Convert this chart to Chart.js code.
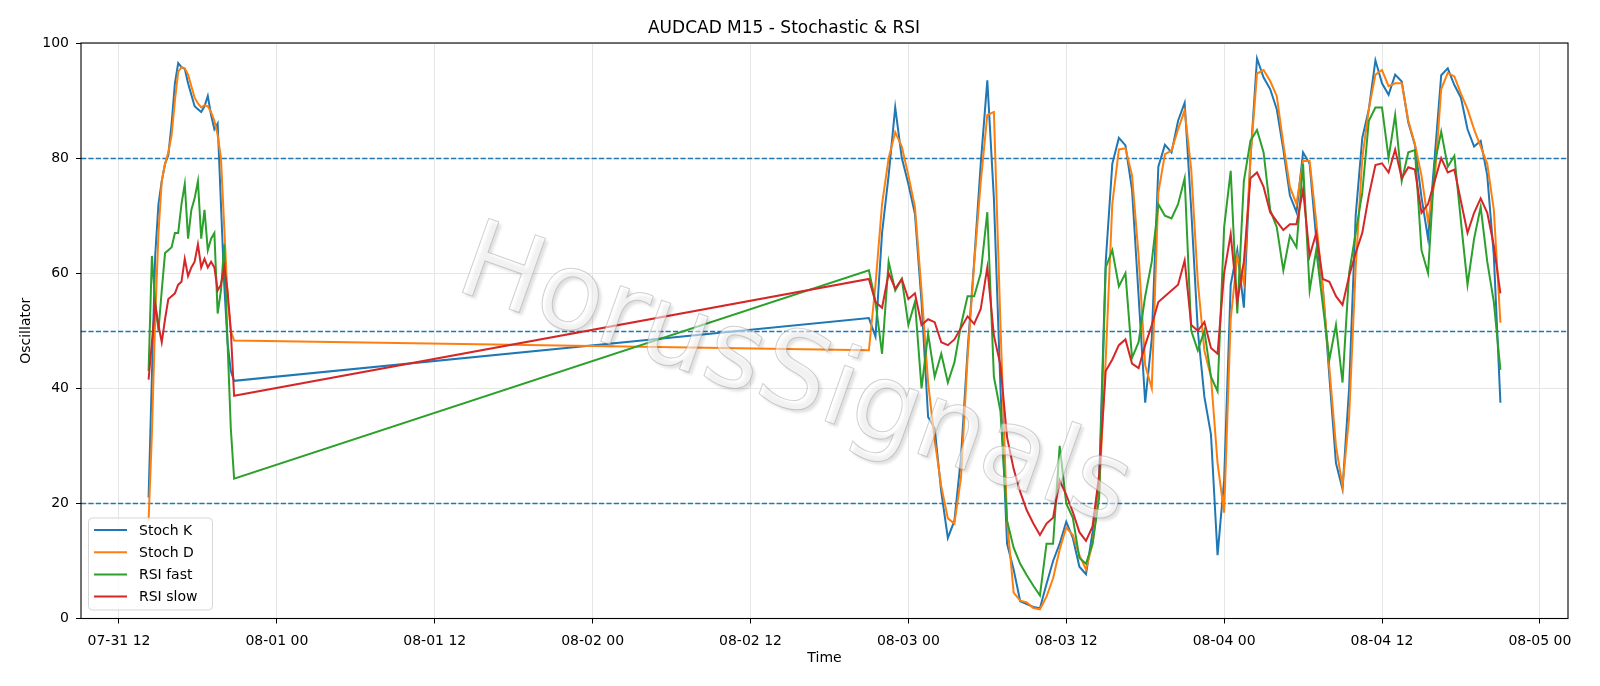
<!DOCTYPE html>
<html>
<head>
<meta charset="utf-8">
<title>AUDCAD M15 - Stochastic &amp; RSI</title>
<script src="https://cdn.jsdelivr.net/npm/chart.js@4.4.1/dist/chart.umd.min.js"></script>
<style>
  html, body { margin: 0; padding: 0; background: #fff; }
  canvas { display: block; }
</style>
</head>
<body>
<canvas id="osc-chart" width="1600" height="686" style="width:1600px;height:686px"></canvas>
<script>
// Bar times (M15 feed, weekend gap between the two blocks)
const barTimes = [
  '07-31 14:15', '07-31 14:30', '07-31 14:45', '07-31 15:00', '07-31 15:15', '07-31 15:30', '07-31 15:45',
  '07-31 16:00', '07-31 16:15', '07-31 16:30', '07-31 16:45', '07-31 17:00', '07-31 17:15', '07-31 17:30',
  '07-31 17:45', '07-31 18:00', '07-31 18:15', '07-31 18:30', '07-31 18:45', '07-31 19:00', '07-31 19:15',
  '07-31 19:30', '07-31 19:45', '07-31 20:00', '07-31 20:15', '07-31 20:30', '07-31 20:45',
  '08-02 21:00', '08-02 21:30', '08-02 22:00', '08-02 22:30', '08-02 23:00', '08-02 23:30', '08-03 00:00', '08-03 00:30',
  '08-03 01:00', '08-03 01:30', '08-03 02:00', '08-03 02:30', '08-03 03:00', '08-03 03:30', '08-03 04:00', '08-03 04:30',
  '08-03 05:00', '08-03 05:30', '08-03 06:00', '08-03 06:30', '08-03 07:00', '08-03 07:30', '08-03 08:00', '08-03 08:30',
  '08-03 09:00', '08-03 09:30', '08-03 10:00', '08-03 10:30', '08-03 11:00', '08-03 11:30', '08-03 12:00', '08-03 12:30',
  '08-03 13:00', '08-03 13:30', '08-03 14:00', '08-03 14:30', '08-03 15:00', '08-03 15:30', '08-03 16:00', '08-03 16:30',
  '08-03 17:00', '08-03 17:30', '08-03 18:00', '08-03 18:30', '08-03 19:00', '08-03 19:30', '08-03 20:00', '08-03 20:30',
  '08-03 21:00', '08-03 21:30', '08-03 22:00', '08-03 22:30', '08-03 23:00', '08-03 23:30', '08-04 00:00', '08-04 00:30',
  '08-04 01:00', '08-04 01:30', '08-04 02:00', '08-04 02:30', '08-04 03:00', '08-04 03:30', '08-04 04:00', '08-04 04:30',
  '08-04 05:00', '08-04 05:30', '08-04 06:00', '08-04 06:30', '08-04 07:00', '08-04 07:30', '08-04 08:00', '08-04 08:30',
  '08-04 09:00', '08-04 09:30', '08-04 10:00', '08-04 10:30', '08-04 11:00', '08-04 11:30', '08-04 12:00', '08-04 12:30',
  '08-04 13:00', '08-04 13:30', '08-04 14:00', '08-04 14:30', '08-04 15:00', '08-04 15:30', '08-04 16:00', '08-04 16:30',
  '08-04 17:00', '08-04 17:30', '08-04 18:00', '08-04 18:30', '08-04 19:00', '08-04 19:30', '08-04 20:00', '08-04 20:30',
  '08-04 21:00',
];

const stochK = [
  21, 42, 63, 72, 76, 79, 80.5, 86, 93, 96.5, 95.8, 95.5, 93, 91,
  89, 88.5, 88, 89, 90.8, 87.5, 85, 86, 72, 58, 48, 43, 41.3,
  52.2, 49, 67, 77, 88.8, 80, 75.5, 70.3,
  55, 35, 33, 22, 14, 17, 28, 46.5,
  62, 79, 93.5, 73, 40, 13, 8.5, 3,
  2.5, 2, 1.8, 6, 10, 13, 16.8, 14,
  9, 7.7, 15, 24, 62, 79, 83.5, 82.2,
  74.5, 56, 37.5, 48.6, 78.5, 82.3, 81, 86.5,
  89.6, 71, 50, 38.5, 32, 11, 24, 58,
  64, 54, 80, 97.3, 94, 92, 88.5, 81.5,
  73.5, 70.6, 81, 79, 66, 57.5, 42, 27,
  22.5, 40, 70, 83.5, 88.5, 97, 93, 91,
  94.5, 93.3, 86.2, 82.3, 73.2, 66, 80, 94.4,
  95.6, 92.7, 90.5, 85, 82, 83, 77, 63,
  37.5,
];

const stochD = [
  17, 32, 52, 67, 76, 79, 81, 84, 90, 95, 95.8, 95.6, 94.5, 92.5,
  90.5, 89.5, 88.8, 89.2, 89, 88, 86.5, 84, 80, 68, 56, 50, 48.3,
  46.6, 58, 72, 80, 84.5, 82, 77, 71.5,
  57, 41, 31, 23, 17.4, 16.5, 24.5, 45.3,
  61.6, 75.8, 87.5, 88, 51, 17, 4.5, 3.1,
  2.8, 1.8, 1.6, 3.8, 7, 12, 15.8, 14.5,
  11, 8.5, 13, 22, 45, 72, 81.5, 81.7,
  77, 63, 44, 40, 74, 80.7, 81.3, 85,
  88.3, 78, 58.5, 46.5, 42, 27, 18.4, 52,
  63, 58.3, 80, 94.7, 95.3, 93.4, 90.8, 82.5,
  75, 72, 79.5, 79.5, 69, 57.5, 43.5, 30,
  23, 35, 61, 80, 88.5, 94.5, 95.3, 92.5,
  93, 93, 86.5, 82.5, 77, 69, 76, 92,
  94.8, 94.2, 91.2, 88.5, 85, 82, 79, 71,
  51.4,
];

const rsiFast = [
  43, 63, 55, 50, 57, 63.5, 64, 64.5, 67, 67, 72, 75.5, 66, 71,
  73, 76, 66, 71, 64, 66, 67, 53, 57, 65, 48, 33, 24.3,
  60.5, 55, 46, 62, 57, 59, 51, 55,
  40, 49.5, 42, 46, 41, 44.5, 51, 56,
  56, 60, 70.6, 42, 36, 17, 12.3, 9.5,
  7.5, 5.7, 4, 13, 13, 30, 20, 17.5,
  10.5, 9.5, 13, 21, 61, 64, 57.7, 60,
  45.3, 48, 56, 62, 72, 70, 69.5, 72,
  76.5, 50, 46.6, 50, 42, 39.5, 68, 77.8,
  53, 76, 83, 84.9, 81, 71, 68, 60.5,
  66.5, 64.5, 79, 57, 64, 54.5, 45, 51,
  41, 60, 67, 74, 86.5, 88.8, 88.8, 80,
  87.5, 76, 81, 81.4, 64, 60, 79, 84.6,
  78.5, 80.4, 69, 58, 66, 71.5, 62, 55,
  43.2,
];

const rsiSlow = [
  41.5, 48, 54.5, 51, 48, 52, 55.5, 56, 56.5, 58, 58.5, 62.5, 59.5, 61,
  62, 65, 61, 62.5, 61, 62, 61, 57, 58, 61, 57, 50, 38.7,
  59, 55, 54, 60, 57.3, 59, 55.5, 56.5,
  51, 52, 51.5, 48, 47.5, 48.5, 50.5, 52.5,
  51.2, 53.8, 61, 49.2, 44, 31.5, 26, 22,
  18.8, 16.5, 14.5, 16.5, 17.5, 24, 21.5, 18.5,
  15, 13.5, 16, 25, 43, 45, 47.5, 48.5,
  44.3, 43.5, 47.5, 51, 55, 56, 57, 58,
  62.2, 51, 50, 51.5, 47, 46, 60, 66.8,
  55, 62, 76.5, 77.5, 75, 70.6, 69, 67.5,
  68.5, 68.5, 74.5, 63, 67, 59, 58.5, 56,
  54.5, 59.5, 63.5, 67, 73.5, 78.8, 79.1, 77.5,
  81.5, 76.5, 78.4, 78, 70.5, 72, 76, 80,
  77.5, 78, 72.5, 67, 70.5, 73, 70.5, 64.8,
  56.5,
];

// x axis ticks every 12 hours
const xTickTimes = ['07-31 12:00', '08-01 00:00', '08-01 12:00', '08-02 00:00', '08-02 12:00',
  '08-03 00:00', '08-03 12:00', '08-04 00:00', '08-04 12:00', '08-05 00:00'];
const xTickLabels = ['07-31 12', '08-01 00', '08-01 12', '08-02 00', '08-02 12',
  '08-03 00', '08-03 12', '08-04 00', '08-04 12', '08-05 00'];

// overbought / mid / oversold levels
const refLevels = [20, 50, 80];

const FONT = '"DejaVu Sans", "Liberation Sans", sans-serif';

// 'MM-DD HH:MM' -> hours since 08-03 00:00
function toHours(label) {
  const [md, hm] = label.split(' ');
  const [m, d] = md.split('-').map(Number);
  const [hh, mm] = hm.split(':').map(Number);
  return (Date.UTC(2026, m - 1, d, hh, mm) - Date.UTC(2026, 7, 3)) / 3600000;
}

const xs = barTimes.map(toHours);
const toPoints = (vals) => vals.map((v, i) => ({ x: xs[i], y: v }));

// matplotlib style 5% margin on the time axis
const xFirst = xs[0];
const xLast = xs[xs.length - 1];
const xPad = (xLast - xFirst) * 0.05;

const seriesStyle = (label, color, order) => ({
  label: label,
  borderColor: color,
  backgroundColor: color,
  borderWidth: 2,
  pointRadius: 0,
  tension: 0,
  fill: false,
  order: order,
});

const oscData = {
  datasets: [
    { ...seriesStyle('Stoch K', '#1f77b4', 4), data: toPoints(stochK) },
    { ...seriesStyle('Stoch D', '#ff7f0e', 3), data: toPoints(stochD) },
    { ...seriesStyle('RSI fast', '#2ca02c', 2), data: toPoints(rsiFast) },
    { ...seriesStyle('RSI slow', '#d62728', 1), data: toPoints(rsiSlow) },
  ],
};

// dashed reference lines
const refLinesPlugin = {
  id: 'refLines',
  beforeDatasetsDraw(chart) {
    const { ctx, chartArea, scales } = chart;
    ctx.save();
    ctx.strokeStyle = '#1f77b4';
    ctx.lineWidth = 1.3;
    ctx.setLineDash([5.2, 2.2]);
    refLevels.forEach((lvl) => {
      const y = Math.round(scales.y.getPixelForValue(lvl)) + 0.5;
      ctx.beginPath();
      ctx.moveTo(chartArea.left, y);
      ctx.lineTo(chartArea.right, y);
      ctx.stroke();
    });
    ctx.restore();
  },
};

// faint watermark over the plot
const watermarkPlugin = {
  id: 'watermark',
  afterDatasetsDraw(chart) {
    const { ctx } = chart;
    ctx.save();
    ctx.translate(794, 380);
    ctx.rotate((19.5 * Math.PI) / 180);
    ctx.font = '108px ' + FONT;
    ctx.textAlign = 'center';
    ctx.textBaseline = 'middle';
    ctx.shadowColor = 'rgba(0, 0, 0, 0.22)';
    ctx.shadowBlur = 3;
    ctx.shadowOffsetX = 3;
    ctx.shadowOffsetY = 3;
    ctx.fillStyle = 'rgba(255, 255, 255, 0.55)';
    ctx.fillText('HorusSignals', 0, 0);
    ctx.shadowColor = 'transparent';
    ctx.strokeStyle = 'rgba(150, 150, 150, 0.45)';
    ctx.lineWidth = 1;
    ctx.strokeText('HorusSignals', 0, 0);
    ctx.restore();
  },
};

// axes frame + legend box in the lower left corner
const frameLegendPlugin = {
  id: 'frameLegend',
  afterDraw(chart) {
    const { ctx, chartArea } = chart;
    ctx.save();
    ctx.strokeStyle = '#000';
    ctx.lineWidth = 1.1;
    ctx.strokeRect(chartArea.left, chartArea.top, chartArea.right - chartArea.left, chartArea.bottom - chartArea.top);

    const bx = chartArea.left + 7;
    const by = chartArea.bottom - 101;
    const bw = 124;
    const bh = 92;
    ctx.fillStyle = 'rgba(255, 255, 255, 0.8)';
    ctx.strokeStyle = 'rgba(204, 204, 204, 0.8)';
    ctx.lineWidth = 1;
    ctx.beginPath();
    ctx.roundRect(bx + 0.5, by + 0.5, bw, bh, 4);
    ctx.fill();
    ctx.stroke();

    ctx.font = '14px ' + FONT;
    ctx.textBaseline = 'middle';
    ctx.textAlign = 'left';
    chart.data.datasets.forEach((ds, i) => {
      const rowY = by + 12.5 + i * 22.2;
      ctx.strokeStyle = ds.borderColor;
      ctx.lineWidth = 2;
      ctx.beginPath();
      ctx.moveTo(bx + 6, rowY);
      ctx.lineTo(bx + 39, rowY);
      ctx.stroke();
      ctx.fillStyle = '#000';
      ctx.fillText(ds.label, bx + 51, rowY + 1);
    });
    ctx.restore();
  },
};

const oscOptions = {
  responsive: false,
  animation: false,
  devicePixelRatio: 1,
  layout: {
    padding: { left: 0, right: 32, top: 0, bottom: 0 },
  },
  scales: {
    x: {
      type: 'linear',
      min: xFirst - xPad,
      max: xLast + xPad,
      afterBuildTicks: (scale) => {
        scale.ticks = xTickTimes.map((t) => ({ value: toHours(t) }));
      },
      afterFit: (scale) => {
        scale.height = 67.5;
      },
      ticks: {
        autoSkip: false,
        maxRotation: 0,
        padding: 9,
        color: '#000',
        font: { family: FONT, size: 14 },
        callback: (value, index) => xTickLabels[index],
      },
      grid: {
        color: '#e6e6e6',
        lineWidth: 1,
        tickLength: 5,
        tickColor: '#000',
      },
      border: { display: false },
      title: {
        display: true,
        text: 'Time',
        color: '#000',
        font: { family: FONT, size: 14 },
        padding: { top: 0, bottom: 19.5 },
      },
    },
    y: {
      min: 0,
      max: 100,
      afterFit: (scale) => {
        scale.width = 81;
      },
      ticks: {
        stepSize: 20,
        padding: 7,
        color: '#000',
        font: { family: FONT, size: 14 },
      },
      grid: {
        color: '#e6e6e6',
        lineWidth: 1,
        tickLength: 5,
        tickColor: '#000',
      },
      border: { display: false },
      title: {
        display: true,
        text: 'Oscillator',
        color: '#000',
        font: { family: FONT, size: 14 },
        padding: { top: 18, bottom: 0 },
      },
    },
  },
  plugins: {
    legend: { display: false },
    tooltip: { enabled: false },
    title: {
      display: true,
      text: 'AUDCAD M15 - Stochastic & RSI',
      color: '#000',
      font: { family: FONT, size: 17, weight: 'normal' },
      padding: { top: 18.8, bottom: 3.8 },
    },
  },
};

const oscCanvas = document.getElementById('osc-chart');
const oscChart = new Chart(oscCanvas, {
  type: 'line',
  data: oscData,
  options: oscOptions,
  plugins: [refLinesPlugin, watermarkPlugin, frameLegendPlugin],
});
</script>
</body>
</html>
